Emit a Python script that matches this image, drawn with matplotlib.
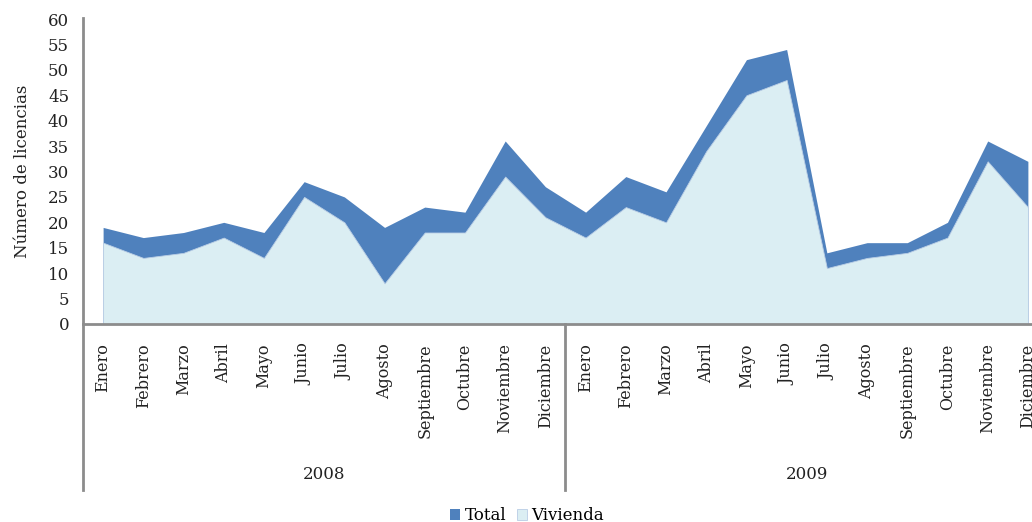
import matplotlib.pyplot as plt
import numpy as np

plt.rcParams['font.family'] = ['DejaVu Serif']

meses = ["Enero", "Febrero", "Marzo", "Abril", "Mayo", "Junio", "Julio",
         "Agosto", "Septiembre", "Octubre", "Noviembre", "Diciembre"]
anios = ["2008", "2009"]
etiquetas = meses + meses

total = [19, 17, 18, 20, 18, 28, 25, 19, 23, 22, 36, 27,
         22, 29, 26, 39, 52, 54, 14, 16, 16, 20, 36, 32]
vivienda = [16, 13, 14, 17, 13, 25, 20, 8, 18, 18, 29, 21,
            17, 23, 20, 34, 45, 48, 11, 13, 14, 17, 32, 23]

W, H = 1032, 522
fig = plt.figure(figsize=(W / 100, H / 100), dpi=100)
ax = fig.add_axes([83 / W, (H - 324) / H, (1048 - 83) / W, (324 - 19) / H])

x = np.arange(len(total))
ax.fill_between(x, 0, total, color='#4F81BD', linewidth=0, label='Total')
ax.fill_between(x, 0, vivienda, color='#DBEEF3', edgecolor='#B9CDE5',
                linewidth=0.6, label='Vivienda')

ax.set_xlim(-0.5, len(total) - 0.5)
ax.set_ylim(0, 60)
ax.set_yticks(range(0, 61, 5))
ax.tick_params(axis='y', length=0, labelsize=12, pad=10, colors='#222222')
ax.set_xticks(x)
ax.set_xticklabels(etiquetas, rotation=90, va='top', ha='center')
ax.tick_params(axis='x', length=0, labelsize=11.5, pad=14, colors='#222222')

gris = '#8C8C8C'
for s in ['top', 'right', 'left']:
    ax.spines[s].set_visible(False)
ax.spines['bottom'].set_color(gris)
ax.spines['bottom'].set_linewidth(2)

tr = ax.get_xaxis_transform()
ax.plot([-0.5, -0.5], [-0.545, 1.003], color=gris, lw=2, transform=tr, clip_on=False)
ax.plot([11.5, 11.5], [-0.545, 0], color=gris, lw=2, transform=tr, clip_on=False)
for i, a in enumerate(anios):
    ax.text(5.5 + 12 * i, -0.495, a, transform=tr, ha='center', va='center',
            fontsize=12, color='#222222')

ax.set_ylabel("Número de licencias", fontsize=12, labelpad=12, color='#222222')

fig.legend(loc='center', bbox_to_anchor=(527 / W, 1 - 516 / H), ncol=2,
           frameon=False, fontsize=12, handlelength=0.6, handleheight=0.6,
           handletextpad=0.3, columnspacing=0.6, borderpad=0)

fig.savefig("out.png", dpi=100)
